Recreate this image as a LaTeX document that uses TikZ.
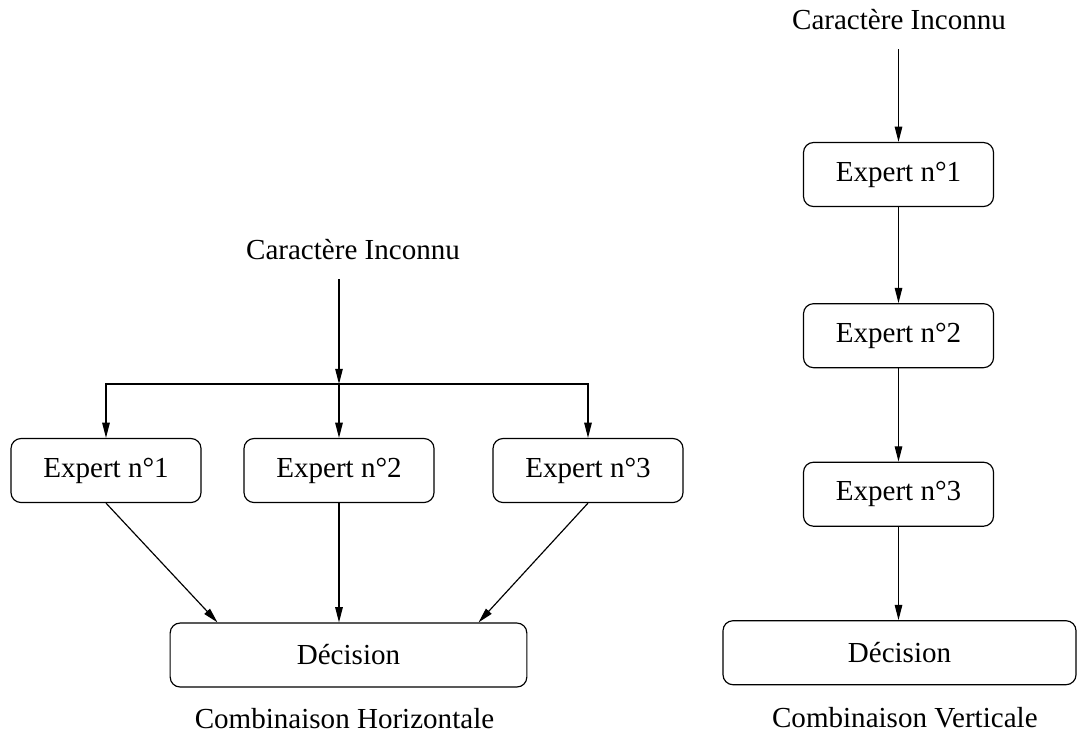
\documentclass[tikz,border=0pt]{standalone}
\usepackage{fontspec}
\setmainfont{Liberation Serif}
\usepackage{tikz}
\usetikzlibrary{positioning,arrows.meta,calc}

\begin{document}
\begin{tikzpicture}[
  x=0.015cm, y=-0.015cm,
  every node/.style={font=\fontsize{12.4}{14}\selectfont},
  expert/.style={rectangle, rounded corners=0.15cm, draw=black, line width=0.5pt,
                 minimum width=2.85cm, minimum height=0.96cm, inner sep=2pt},
  decision/.style={expert, minimum width=5.35cm},
  source/.style={inner xsep=2pt, inner ysep=8pt},
  flow/.style={-{Triangle[length=6.5pt,width=3.2pt]}, line width=0.5pt, black}
]
  \useasboundingbox (0,0) rectangle (1078,731);

  % horizontal combination
  \node[source]            (ci1)  at (353,250)  {Caract\`ere Inconnu};
  \coordinate              (split) at (339,384);
  \node[expert]            (ex1)  at (106,470.5) {Expert n\textdegree1};
  \node[expert]            (ex2)  at (339,470.5) {Expert n\textdegree2};
  \node[expert]            (ex3)  at (588,470.5) {Expert n\textdegree3};
  \node[decision]          (dech) at (348.5,655) {D\'ecision};
  \node[below=0.18cm of dech, xshift=-0.06cm] (caph) {Combinaison Horizontale};
  \draw[flow] (ci1.south -| split) -- (split);
  \draw[flow] (split) -| (ex1.north);
  \draw[flow] (split) -- (ex2.north);
  \draw[flow] (split) -| (ex3.north);
  \draw[flow] (ex1.south) -- ($(dech.north)+(-131,0)$);
  \draw[flow] (ex2.south) -- (ex2.south |- dech.north);
  \draw[flow] (ex3.south) -- ($(dech.north)+(130,0)$);

  % vertical combination
  \node[source]                      (ci2)  at (899,20)    {Caract\`ere Inconnu};
  \node[expert]                      (exv1) at (898.5,174.5) {Expert n\textdegree1};
  \node[expert, below=1.44cm of exv1] (exv2) {Expert n\textdegree2};
  \node[expert, below=1.40cm of exv2] (exv3) {Expert n\textdegree3};
  \node[decision, minimum width=5.295cm, below=1.40cm of exv3, xshift=0.015cm] (decv) {D\'ecision};
  \node[xshift=0.08cm] (capv) at (caph -| decv) {Combinaison Verticale};
  \draw[flow] (ci2.south -| exv1) -- (exv1.north);
  \draw[flow] (exv1) -- (exv2);
  \draw[flow] (exv2) -- (exv3);
  \draw[flow] (exv3.south) -- (exv3.south |- decv.north);
\end{tikzpicture}
\end{document}
